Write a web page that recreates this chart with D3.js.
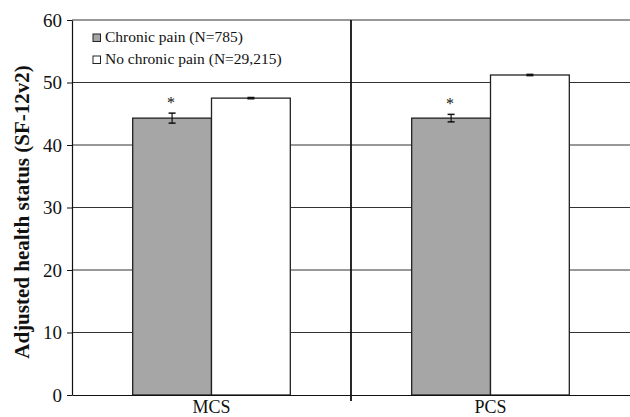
<!DOCTYPE html>
<html>
<head>
<meta charset="utf-8">
<script src="https://cdn.jsdelivr.net/npm/d3@7"></script>
<style>
  html, body { margin: 0; padding: 0; background: #fff; }
  svg { display: block; }
</style>
</head>
<body>
<div id="chart"></div>
<script>
// Adjusted SF-12v2 scores by chronic pain status.
const categories = ['MCS', 'PCS'];
const groups = ['Chronic pain (N=785)', 'No chronic pain (N=29,215)'];
const chronicValues = [44.3, 44.3];
const chronicErrors = [0.8, 0.6];
const noChronicValues = [47.5, 51.2];
const noChronicErrors = [0.1, 0.1];
const significant = [true, true];
const yTicks = [0, 10, 20, 30, 40, 50, 60];

const W = 630, H = 417;
const M = { top: 20, right: 0, bottom: 22, left: 72 };
const innerW = W - M.left - M.right;
const innerH = H - M.top - M.bottom;
const ink = '#111';
const serif = 'Liberation Serif';
const fills = ['#a6a6a6', '#ffffff'];

const svg = d3.select('#chart').append('svg').attr('width', W).attr('height', H)
  .attr('font-family', serif);
const g = svg.append('g').attr('transform', `translate(${M.left},${M.top})`);

const x = d3.scaleBand().domain(categories).range([0, innerW]);
const x1 = d3.scaleBand().domain(groups).range([0, x.bandwidth()]).paddingOuter(0.77).paddingInner(0);
const y = d3.scaleLinear().domain([0, 60]).range([innerH, 0]);

// Gridlines behind the bars
g.append('g').selectAll('line').data(yTicks.slice(1)).join('line')
  .attr('x1', 0).attr('x2', innerW).attr('y1', (d) => y(d)).attr('y2', (d) => y(d))
  .attr('stroke', '#333').attr('stroke-width', 1);

// Bars
const rows = categories.map((c, i) => [
  { cat: c, grp: groups[0], v: chronicValues[i], e: chronicErrors[i], fill: fills[0], star: significant[i] },
  { cat: c, grp: groups[1], v: noChronicValues[i], e: noChronicErrors[i], fill: fills[1], star: false },
]).flat();

g.selectAll('rect.bar').data(rows).join('rect').attr('class', 'bar')
  .attr('x', (d) => x(d.cat) + x1(d.grp)).attr('width', x1.bandwidth())
  .attr('y', (d) => y(d.v)).attr('height', (d) => y(0) - y(d.v))
  .attr('fill', (d) => d.fill).attr('stroke', '#222').attr('stroke-width', 1.3);

// Error bars
const eb = g.selectAll('g.err').data(rows).join('g').attr('class', 'err')
  .attr('transform', (d) => `translate(${x(d.cat) + x1(d.grp) + x1.bandwidth() / 2},0)`);
eb.append('line').attr('y1', (d) => y(d.v + d.e)).attr('y2', (d) => y(d.v - d.e))
  .attr('stroke', ink).attr('stroke-width', 1.2);
eb.append('line').attr('x1', -3.5).attr('x2', 3.5)
  .attr('y1', (d) => y(d.v + d.e)).attr('y2', (d) => y(d.v + d.e)).attr('stroke', ink).attr('stroke-width', 1.5);
eb.append('line').attr('x1', -3.5).attr('x2', 3.5)
  .attr('y1', (d) => y(d.v - d.e)).attr('y2', (d) => y(d.v - d.e)).attr('stroke', ink).attr('stroke-width', 1.5);

// Significance stars
g.selectAll('text.star').data(rows.filter((d) => d.star)).join('text').attr('class', 'star')
  .attr('x', (d) => x(d.cat) + x1(d.grp) + x1.bandwidth() / 2 - 1)
  .attr('y', (d) => y(d.v + d.e) - 5)
  .attr('text-anchor', 'middle').attr('font-size', 16).attr('font-family', serif)
  .attr('fill', ink).text('*');

// Divider between categories
g.append('line').attr('x1', x('PCS')).attr('x2', x('PCS')).attr('y1', 0).attr('y2', innerH + 6)
  .attr('stroke', ink).attr('stroke-width', 1.8);

// Y axis
g.append('g')
  .call(d3.axisLeft(y).tickValues(yTicks).tickSize(5).tickPadding(5).tickSizeOuter(0))
  .call((s) => {
    s.attr('font-family', serif);
    s.select('.domain').attr('stroke', ink).attr('stroke-width', 1.2);
    s.selectAll('line').attr('stroke', ink);
    s.selectAll('text').attr('font-size', 19).attr('fill', ink).attr('font-family', serif);
  });

// X axis
g.append('g').attr('transform', `translate(0,${innerH})`)
  .call(d3.axisBottom(x).tickSize(0).tickPadding(5).tickSizeOuter(0))
  .call((s) => {
    s.attr('font-family', serif);
    s.select('.domain').attr('stroke', ink).attr('stroke-width', 1.2);
    s.selectAll('text').attr('font-size', 18).attr('fill', ink).attr('font-family', serif);
  });

// Axis title
svg.append('text')
  .attr('transform', `translate(29,212) rotate(-90)`)
  .attr('text-anchor', 'middle').attr('font-size', 21).attr('font-weight', 'bold')
  .attr('font-family', serif).attr('fill', ink)
  .text('Adjusted health status (SF-12v2)');

// Legend
const leg = svg.append('g').attr('transform', 'translate(93,42)');
groups.forEach((name, i) => {
  const row = leg.append('g').attr('transform', `translate(0,${i * 22})`);
  row.append('rect').attr('x', 0).attr('y', -8).attr('width', 7.5).attr('height', 7.5)
    .attr('fill', fills[i]).attr('stroke', '#222').attr('stroke-width', 1);
  row.append('text').attr('x', 12).attr('y', 0).attr('font-size', 15.5)
    .attr('font-family', serif).attr('fill', ink).text(name);
});
</script>
</body>
</html>
